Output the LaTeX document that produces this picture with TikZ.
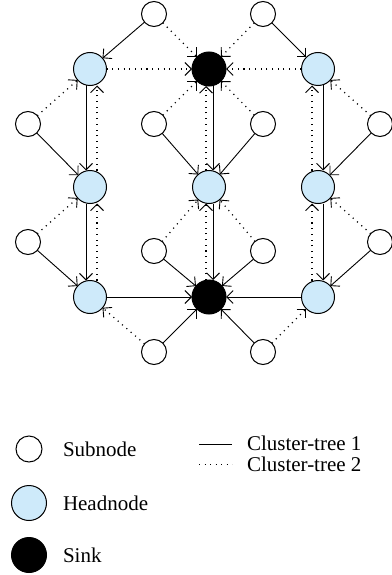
\documentclass[tikz,border=0pt]{standalone}
\usepackage{fontspec}
\setmainfont{Liberation Serif}
\usetikzlibrary{arrows.meta}
\definecolor{headblue}{RGB}{206,234,250}
\begin{document}
\begin{tikzpicture}[x=1pt,y=-1pt,
  every node/.style={inner sep=0pt, outer sep=0pt},
  subnode/.style={circle, draw, line width=1pt, fill=white, minimum size=25pt},
  headnode/.style={circle, draw, line width=1pt, fill=headblue, minimum size=33pt},
  sinknode/.style={circle, draw, line width=1pt, fill=black, minimum size=34pt},
  tip/.style={-{Straight Barb[length=6.5pt,width=13pt,line width=0.9pt]}},
  treeone/.style={line width=0.9pt, tip},
  treetwo/.style={line width=1.2pt, dash pattern=on 1.1pt off 4.6pt, tip},
  legtext/.style={anchor=west, font=\fontsize{21}{25}\selectfont}
]
\useasboundingbox (0,0) rectangle (391,575);

% head nodes and sinks
\node[headnode] (h11) at (90,69) {};
\node[sinknode] (s1)  at (209,69) {};
\node[headnode] (h13) at (318,69) {};
\node[headnode] (h21) at (90,187) {};
\node[headnode] (h22) at (209,187) {};
\node[headnode] (h23) at (318,187) {};
\node[headnode] (h31) at (90,297) {};
\node[sinknode] (s2)  at (209,297) {};
\node[headnode] (h33) at (318,297) {};

% sub nodes
\node[subnode] (a1) at (154,14) {};
\node[subnode] (a2) at (263,14) {};
\node[subnode] (b1) at (28,124) {};
\node[subnode] (b2) at (154,124) {};
\node[subnode] (b3) at (263,124) {};
\node[subnode] (b4) at (380,124) {};
\node[subnode] (c1) at (28,242) {};
\node[subnode] (c2) at (154,251) {};
\node[subnode] (c3) at (263,251) {};
\node[subnode] (c4) at (380,242) {};
\node[subnode] (d1) at (154,352) {};
\node[subnode] (d2) at (263,352) {};

% cluster-tree 1
\draw[treeone] (a1) -- (h11);
\draw[treeone] (a2) -- (h13);
\draw[treeone] (b1) -- (h21);
\draw[treeone] (b2) -- (h22);
\draw[treeone] (b3) -- (h22);
\draw[treeone] (b4) -- (h23);
\draw[treeone] (c1) -- (h31);
\draw[treeone] (c2) -- (s2);
\draw[treeone] (c3) -- (s2);
\draw[treeone] (c4) -- (h33);
\draw[treeone] (d1) -- (s2);
\draw[treeone] (d2) -- (s2);
\draw[treeone] ([xshift=-4pt]h11.south) -- ([xshift=-4pt]h21.north);
\draw[treeone] ([xshift=-4pt]h21.south) -- ([xshift=-4pt]h31.north);
\draw[treeone] ([xshift=4pt]s1.south) -- ([xshift=4pt]h22.north);
\draw[treeone] ([xshift=4pt]h22.south) -- ([xshift=4pt]s2.north);
\draw[treeone] ([xshift=5pt]h13.south) -- ([xshift=5pt]h23.north);
\draw[treeone] ([xshift=5pt]h23.south) -- ([xshift=5pt]h33.north);
\draw[treeone] (h31) -- (s2);
\draw[treeone] (h33) -- (s2);

% cluster-tree 2
\draw[treetwo] (a1) -- (s1);
\draw[treetwo] (a2) -- (s1);
\draw[treetwo] (h11) -- (s1);
\draw[treetwo] (h13) -- (s1);
\draw[treetwo] (b1) -- (h11);
\draw[treetwo] (b2) -- (s1);
\draw[treetwo] (b3) -- (s1);
\draw[treetwo] (b4) -- (h13);
\draw[treetwo] (c1) -- (h21);
\draw[treetwo] (c2) -- (h22);
\draw[treetwo] (c3) -- (h22);
\draw[treetwo] (c4) -- (h23);
\draw[treetwo] (d1) -- (h31);
\draw[treetwo] (d2) -- (h33);
\draw[treetwo] ([xshift=7pt]h21.north) -- ([xshift=7pt]h11.south);
\draw[treetwo] ([xshift=7pt]h31.north) -- ([xshift=7pt]h21.south);
\draw[treetwo] ([xshift=-3pt]h22.north) -- ([xshift=-3pt]s1.south);
\draw[treetwo] ([xshift=-3pt]s2.north) -- ([xshift=-3pt]h22.south);
\draw[treetwo] ([xshift=-6pt]h23.north) -- ([xshift=-6pt]h13.south);
\draw[treetwo] ([xshift=-6pt]h33.north) -- ([xshift=-6pt]h23.south);

% legend
\node[subnode, minimum size=26pt] (ls) at (29,449) {};
\node[headnode, minimum size=35pt] (lh) at (29,503) {};
\node[sinknode, minimum size=35pt] (lk) at (29,555) {};
\node[legtext] (tsub)  at (63,449) {Subnode};
\node[legtext] (thead) at (63,503) {Headnode};
\node[legtext] (tsink) at (63,555) {Sink};
\coordinate (l1a) at (199,444);
\coordinate (l1b) at (232,444);
\coordinate (l2a) at (199,464);
\coordinate (l2b) at (232,464);
\draw[line width=0.9pt] (l1a) -- (l1b);
\draw[line width=0.9pt, dash pattern=on 0.9pt off 4.6pt] (l2a) -- (l2b);
\node[legtext] (tc1) at (247,443) {Cluster-tree 1};
\node[legtext] (tc2) at (247,464) {Cluster-tree 2};
\end{tikzpicture}
\end{document}
